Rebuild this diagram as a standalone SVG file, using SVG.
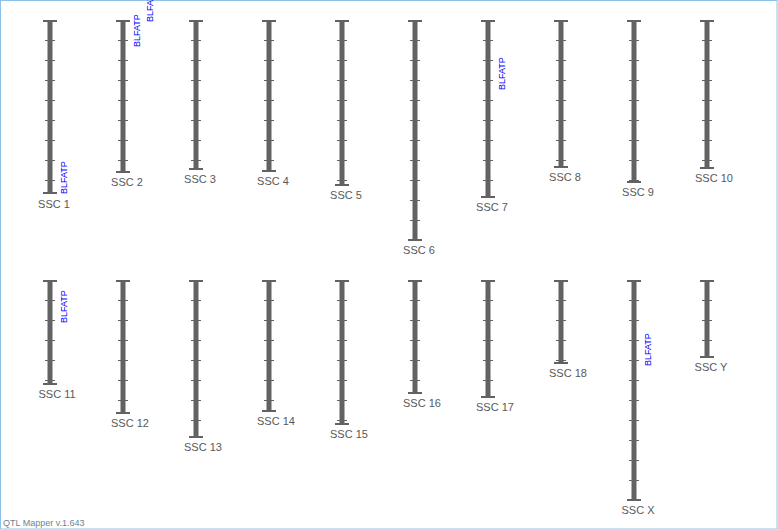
<svg xmlns="http://www.w3.org/2000/svg" width="778" height="530" viewBox="0 0 778 530">
<style>
.bar{fill:#626262}
.cap{stroke:#626262;stroke-width:2;fill:none}
.tick{stroke:#626262;stroke-width:1;fill:none}
.lbl{font-family:"Liberation Sans",Arial,sans-serif;font-size:11px;fill:#595959;text-anchor:middle}
.qtl{font-family:"Liberation Sans",Arial,sans-serif;font-size:9px;fill:#0000ff}
.foot{font-family:"Liberation Sans",Arial,sans-serif;font-size:9px;fill:#6f8294}
</style>
<rect x="0.5" y="0.5" width="776.5" height="528.5" fill="#ffffff" stroke="#8cc2ea" stroke-width="1"/>
<g id="ssc1"><rect class="bar" x="47.5" y="20" width="5" height="173"/><path class="cap" d="M43 21h14M43 193h14"/><path class="tick" d="M45 40.5h10M45 60.5h10M45 80.5h10M45 100.5h10M45 120.5h10M45 140.5h10M45 160.5h10M45 180.5h10"/><text class="lbl" x="54" y="208">SSC 1</text></g>
<g id="ssc2"><rect class="bar" x="120.5" y="20" width="5" height="152"/><path class="cap" d="M116 21h14M116 172h14"/><path class="tick" d="M118 40.5h10M118 60.5h10M118 80.5h10M118 100.5h10M118 120.5h10M118 140.5h10M118 160.5h10"/><text class="lbl" x="127" y="186">SSC 2</text></g>
<g id="ssc3"><rect class="bar" x="193.5" y="20" width="5" height="149"/><path class="cap" d="M189 21h14M189 169h14"/><path class="tick" d="M191 40.5h10M191 60.5h10M191 80.5h10M191 100.5h10M191 120.5h10M191 140.5h10M191 160.5h10"/><text class="lbl" x="200" y="183">SSC 3</text></g>
<g id="ssc4"><rect class="bar" x="266.5" y="20" width="5" height="151"/><path class="cap" d="M262 21h14M262 171h14"/><path class="tick" d="M264 40.5h10M264 60.5h10M264 80.5h10M264 100.5h10M264 120.5h10M264 140.5h10M264 160.5h10"/><text class="lbl" x="273" y="185">SSC 4</text></g>
<g id="ssc5"><rect class="bar" x="339.5" y="20" width="5" height="165"/><path class="cap" d="M335 21h14M335 185h14"/><path class="tick" d="M337 40.5h10M337 60.5h10M337 80.5h10M337 100.5h10M337 120.5h10M337 140.5h10M337 160.5h10M337 180.5h10"/><text class="lbl" x="346" y="199">SSC 5</text></g>
<g id="ssc6"><rect class="bar" x="412.5" y="20" width="5" height="220"/><path class="cap" d="M408 21h14M408 240h14"/><path class="tick" d="M410 40.5h10M410 60.5h10M410 80.5h10M410 100.5h10M410 120.5h10M410 140.5h10M410 160.5h10M410 180.5h10M410 200.5h10M410 220.5h10"/><text class="lbl" x="419" y="254">SSC 6</text></g>
<g id="ssc7"><rect class="bar" x="485.5" y="20" width="5" height="177"/><path class="cap" d="M481 21h14M481 197h14"/><path class="tick" d="M483 40.5h10M483 60.5h10M483 80.5h10M483 100.5h10M483 120.5h10M483 140.5h10M483 160.5h10M483 180.5h10"/><text class="lbl" x="492" y="211">SSC 7</text></g>
<g id="ssc8"><rect class="bar" x="558.5" y="20" width="5" height="147"/><path class="cap" d="M554 21h14M554 167h14"/><path class="tick" d="M556 40.5h10M556 60.5h10M556 80.5h10M556 100.5h10M556 120.5h10M556 140.5h10M556 160.5h10"/><text class="lbl" x="565" y="181">SSC 8</text></g>
<g id="ssc9"><rect class="bar" x="631.5" y="20" width="5" height="162"/><path class="cap" d="M627 21h14M627 182h14"/><path class="tick" d="M629 40.5h10M629 60.5h10M629 80.5h10M629 100.5h10M629 120.5h10M629 140.5h10M629 160.5h10M629 180.5h10"/><text class="lbl" x="638" y="196">SSC 9</text></g>
<g id="ssc10"><rect class="bar" x="704.5" y="20" width="5" height="148"/><path class="cap" d="M700 21h14M700 168h14"/><path class="tick" d="M702 40.5h10M702 60.5h10M702 80.5h10M702 100.5h10M702 120.5h10M702 140.5h10M702 160.5h10"/><text class="lbl" x="714" y="182">SSC 10</text></g>
<g id="ssc11"><rect class="bar" x="47.5" y="280" width="5" height="104"/><path class="cap" d="M43 281h14M43 384h14"/><path class="tick" d="M45 300.5h10M45 320.5h10M45 340.5h10M45 360.5h10M45 380.5h10"/><text class="lbl" x="57" y="398">SSC 11</text></g>
<g id="ssc12"><rect class="bar" x="120.5" y="280" width="5" height="133"/><path class="cap" d="M116 281h14M116 413h14"/><path class="tick" d="M118 300.5h10M118 320.5h10M118 340.5h10M118 360.5h10M118 380.5h10M118 400.5h10"/><text class="lbl" x="130" y="427">SSC 12</text></g>
<g id="ssc13"><rect class="bar" x="193.5" y="280" width="5" height="157"/><path class="cap" d="M189 281h14M189 437h14"/><path class="tick" d="M191 300.5h10M191 320.5h10M191 340.5h10M191 360.5h10M191 380.5h10M191 400.5h10M191 420.5h10"/><text class="lbl" x="203" y="451">SSC 13</text></g>
<g id="ssc14"><rect class="bar" x="266.5" y="280" width="5" height="131"/><path class="cap" d="M262 281h14M262 411h14"/><path class="tick" d="M264 300.5h10M264 320.5h10M264 340.5h10M264 360.5h10M264 380.5h10M264 400.5h10"/><text class="lbl" x="276" y="425">SSC 14</text></g>
<g id="ssc15"><rect class="bar" x="339.5" y="280" width="5" height="144"/><path class="cap" d="M335 281h14M335 424h14"/><path class="tick" d="M337 300.5h10M337 320.5h10M337 340.5h10M337 360.5h10M337 380.5h10M337 400.5h10M337 420.5h10"/><text class="lbl" x="349" y="438">SSC 15</text></g>
<g id="ssc16"><rect class="bar" x="412.5" y="280" width="5" height="113"/><path class="cap" d="M408 281h14M408 393h14"/><path class="tick" d="M410 300.5h10M410 320.5h10M410 340.5h10M410 360.5h10M410 380.5h10"/><text class="lbl" x="422" y="407">SSC 16</text></g>
<g id="ssc17"><rect class="bar" x="485.5" y="280" width="5" height="117"/><path class="cap" d="M481 281h14M481 397h14"/><path class="tick" d="M483 300.5h10M483 320.5h10M483 340.5h10M483 360.5h10M483 380.5h10"/><text class="lbl" x="495" y="411">SSC 17</text></g>
<g id="ssc18"><rect class="bar" x="558.5" y="280" width="5" height="83"/><path class="cap" d="M554 281h14M554 363h14"/><path class="tick" d="M556 300.5h10M556 320.5h10M556 340.5h10M556 360.5h10"/><text class="lbl" x="568" y="377">SSC 18</text></g>
<g id="sscX"><rect class="bar" x="631.5" y="280" width="5" height="220"/><path class="cap" d="M627 281h14M627 500h14"/><path class="tick" d="M629 300.5h10M629 320.5h10M629 340.5h10M629 360.5h10M629 380.5h10M629 400.5h10M629 420.5h10M629 440.5h10M629 460.5h10M629 480.5h10"/><text class="lbl" x="638" y="514">SSC X</text></g>
<g id="sscY"><rect class="bar" x="704.5" y="280" width="5" height="77"/><path class="cap" d="M700 281h14M700 357h14"/><path class="tick" d="M702 300.5h10M702 320.5h10M702 340.5h10"/><text class="lbl" x="711" y="371">SSC Y</text></g>
<g id="qtls">
<text class="qtl" transform="translate(66.5,194) rotate(-90)">BLFATP</text>
<text class="qtl" transform="translate(140,47) rotate(-90)">BLFATP</text>
<text class="qtl" transform="translate(152.5,22) rotate(-90)">BLFATP</text>
<text class="qtl" transform="translate(505,90) rotate(-90)">BLFATP</text>
<text class="qtl" transform="translate(66.5,323) rotate(-90)">BLFATP</text>
<text class="qtl" transform="translate(651,366) rotate(-90)">BLFATP</text>
</g>
<g id="connectors"></g>
<text class="foot" x="3" y="526">QTL Mapper v.1.643</text>
</svg>
